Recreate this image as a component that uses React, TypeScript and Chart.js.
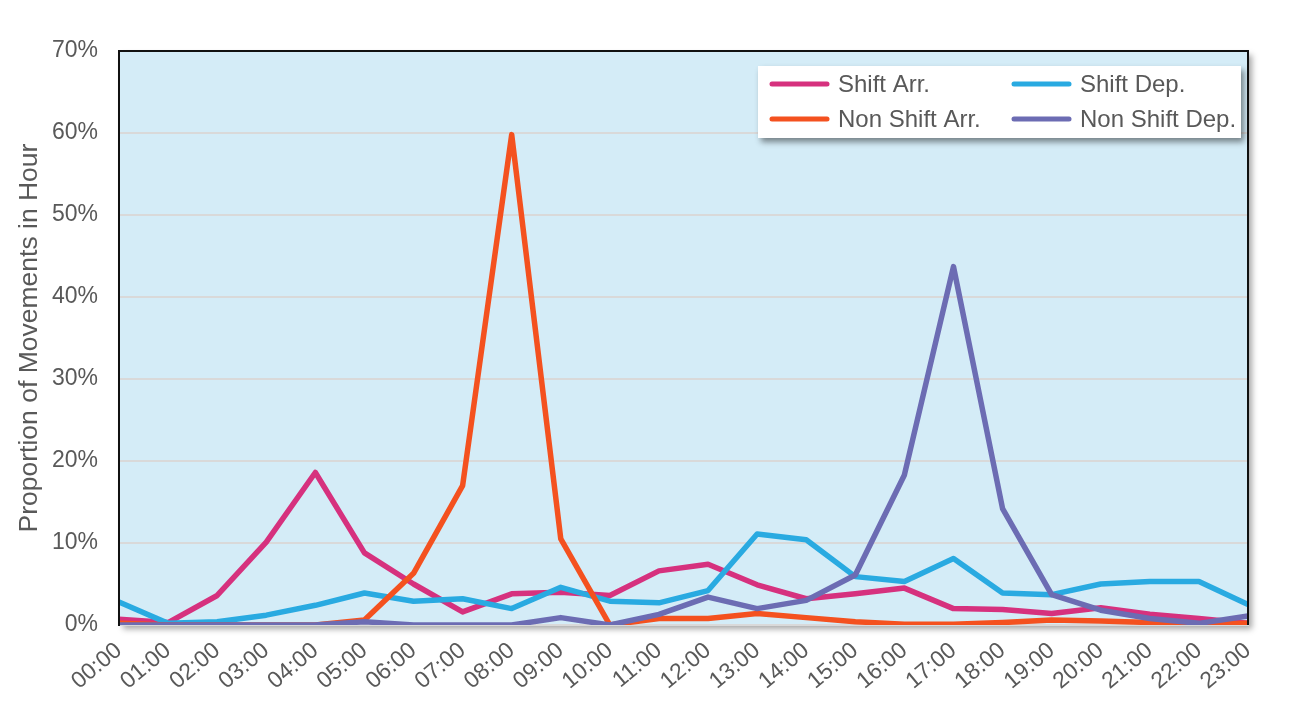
import React, { useEffect, useRef } from "react";
import { Chart, registerables } from "chart.js";

Chart.register(...registerables);

const hours = [
  "00:00", "01:00", "02:00", "03:00", "04:00", "05:00", "06:00", "07:00",
  "08:00", "09:00", "10:00", "11:00", "12:00", "13:00", "14:00", "15:00",
  "16:00", "17:00", "18:00", "19:00", "20:00", "21:00", "22:00", "23:00",
];

const shiftArr = [0.7, 0.3, 3.6, 10.1, 18.6, 8.8, 5.0, 1.6, 3.8, 4.0, 3.6, 6.6, 7.4, 4.9, 3.2, 3.8, 4.5, 2.0, 1.9, 1.4, 2.1, 1.3, 0.8, 0.2];
const shiftDep = [2.8, 0.2, 0.4, 1.2, 2.4, 3.9, 2.9, 3.2, 2.0, 4.6, 2.9, 2.7, 4.2, 11.1, 10.4, 5.9, 5.3, 8.1, 3.9, 3.7, 5.0, 5.3, 5.3, 2.5];
const nonShiftArr = [0.2, 0, 0, 0, 0, 0.6, 6.3, 17.0, 59.8, 10.5, 0, 0.8, 0.8, 1.4, 0.9, 0.4, 0.1, 0.1, 0.3, 0.6, 0.5, 0.3, 0.1, 0.2];
const nonShiftDep = [0, 0, 0, 0, 0, 0.4, 0, 0, 0, 0.9, 0, 1.3, 3.4, 2.0, 3.0, 6.1, 18.3, 43.7, 14.2, 3.7, 1.8, 0.8, 0.2, 1.1];

const seriesLabels = ["Shift Arr.", "Shift Dep.", "Non Shift Arr.", "Non Shift Dep."];
const seriesColors = ["#D6317E", "#29AAE1", "#F4511F", "#6C6CB3"];
const seriesData = [shiftArr, shiftDep, nonShiftArr, nonShiftDep];

const yTitle = "Proportion of Movements in Hour";

const FONT = "'Liberation Sans', Arial, sans-serif";
const TEXT = "#595959";

const plotPlugin = {
  id: "plotDecor",
  beforeDraw(chart: any) {
    const { ctx, chartArea: a } = chart;
    ctx.save();
    ctx.shadowColor = "rgba(0,0,0,0.35)";
    ctx.shadowBlur = 6;
    ctx.shadowOffsetX = 4;
    ctx.shadowOffsetY = 4;
    ctx.fillStyle = "#D4ECF7";
    ctx.fillRect(a.left, a.top, a.right - a.left, a.bottom - a.top);
    ctx.restore();
  },
  afterDatasetsDraw(chart: any) {
    const { ctx, chartArea: a } = chart;
    ctx.save();
    ctx.strokeStyle = "#111";
    ctx.lineWidth = 2;
    ctx.beginPath();
    ctx.moveTo(a.left, a.bottom);
    ctx.lineTo(a.left, a.top);
    ctx.lineTo(a.right, a.top);
    ctx.lineTo(a.right, a.bottom);
    ctx.stroke();
    ctx.restore();
  },
  afterDraw(chart: any) {
    const { ctx, chartArea: a } = chart;
    const w = 483;
    const h = 72;
    const x = a.right - 7 - w;
    const y = a.top + 15;
    ctx.save();
    ctx.shadowColor = "rgba(0,0,0,0.45)";
    ctx.shadowBlur = 6;
    ctx.shadowOffsetX = 3;
    ctx.shadowOffsetY = 4;
    ctx.fillStyle = "#ffffff";
    ctx.fillRect(x, y, w, h);
    ctx.restore();
    ctx.save();
    ctx.font = `24px ${FONT}`;
    ctx.textBaseline = "middle";
    ctx.fillStyle = TEXT;
    chart.data.datasets.forEach((ds: any, i: number) => {
      const col = i % 2;
      const row = Math.floor(i / 2);
      const lx = x + 14 + col * 242;
      const ly = y + 18 + row * 35;
      ctx.strokeStyle = ds.borderColor;
      ctx.lineWidth = 5;
      ctx.lineCap = "round";
      ctx.beginPath();
      ctx.moveTo(lx, ly);
      ctx.lineTo(lx + 55, ly);
      ctx.stroke();
      ctx.fillText(ds.label, lx + 66, ly + 1);
    });
    ctx.restore();
  },
};

export default function App() {
  const ref = useRef<HTMLCanvasElement | null>(null);

  useEffect(() => {
    if (!ref.current) return;
    const chart = new Chart(ref.current, {
      type: "line",
      data: {
        labels: hours,
        datasets: seriesData.map((d, i) => ({
          label: seriesLabels[i],
          data: d,
          borderColor: seriesColors[i],
          backgroundColor: seriesColors[i],
          borderWidth: 5.5,
          pointRadius: 0,
          tension: 0,
          borderJoinStyle: "round" as const,
          order: 3 - i,
        })),
      },
      options: {
        responsive: false,
        animation: false,
        layout: { padding: { left: 0, top: 43, right: 42, bottom: 0 } },
        plugins: {
          legend: { display: false },
          tooltip: { enabled: false },
        },
        scales: {
          x: {
            offset: false,
            grid: { display: false, drawTicks: false },
            border: { display: true, color: "#D9D9D9", width: 2 },
            ticks: {
              autoSkip: false,
              minRotation: 40,
              maxRotation: 40,
              padding: 12,
              color: TEXT,
              font: { family: FONT, size: 23 },
            },
            afterFit(scale: any) {
              scale.height = 88;
            },
          },
          y: {
            min: 0,
            max: 70,
            grid: { color: "#D9D9D9", lineWidth: 2, drawTicks: false },
            border: { display: true, color: "#111", width: 2 },
            ticks: {
              stepSize: 10,
              padding: 21,
              color: TEXT,
              font: { family: FONT, size: 23 },
              callback: (v: any) => `${v}%`,
            },
            title: {
              display: true,
              text: yTitle,
              color: TEXT,
              font: { family: FONT, size: 26.5 },
              padding: { top: 6, bottom: 0 },
            },
            afterFit(scale: any) {
              scale.width = 111;
            },
          },
        },
      },
      plugins: [plotPlugin],
    });
    return () => chart.destroy();
  }, []);

  return (
    <div
      style={{
        width: 1282,
        height: 705,
        margin: "-1px 0 0 -1px",
        borderTop: "1px solid #D9D9D9",
        borderLeft: "1px solid #D9D9D9",
        background: "#fff",
        overflow: "hidden",
      }}
    >
      <canvas ref={ref} width={1282} height={705} style={{ display: "block" }} />
    </div>
  );
}
